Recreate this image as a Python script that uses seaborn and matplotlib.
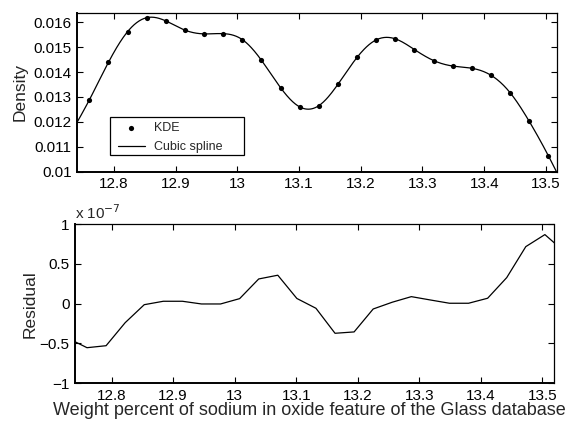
import numpy as np
import pandas as pd
import matplotlib
matplotlib.use("Agg")
import matplotlib.pyplot as plt
from matplotlib.patches import Rectangle
from matplotlib.ticker import FuncFormatter, FixedLocator
import seaborn as sns

# Sodium (Na2O) weight-percent grid where the KDE was evaluated
kde_x = [12.729, 12.760, 12.791, 12.822, 12.853, 12.884, 12.915, 12.946, 12.977,
         13.008, 13.039, 13.070, 13.101, 13.132, 13.163, 13.194, 13.225, 13.256,
         13.287, 13.318, 13.349, 13.380, 13.411, 13.442, 13.473, 13.504, 13.535]
# KDE density values at those grid points
kde_y = [0.01150, 0.01288, 0.01439, 0.01562, 0.01618, 0.01605, 0.01568, 0.01553,
         0.01554, 0.01530, 0.01447, 0.01337, 0.01260, 0.01265, 0.01351, 0.01459,
         0.01529, 0.01533, 0.01490, 0.01446, 0.01424, 0.01415, 0.01387, 0.01317,
         0.01202, 0.01064, 0.00910]
# Residual (KDE - spline), in units of 1e-7
residual_e7 = [-0.434, -0.553, -0.528, -0.239, -0.013, 0.030, 0.030, -0.004,
               -0.004, 0.063, 0.310, 0.357, 0.065, -0.058, -0.372, -0.355,
               -0.067, 0.018, 0.088, 0.046, 0.005, 0.005, 0.068, 0.327,
               0.716, 0.867, 0.657]

x_ticks = [12.8, 12.9, 13.0, 13.1, 13.2, 13.3, 13.4, 13.5]
density_ticks = [0.010, 0.011, 0.012, 0.013, 0.014, 0.015, 0.016]
residual_ticks = [-1, -0.5, 0, 0.5, 1]


def natural_cubic_spline(x, y, xs):
    """Evaluate the natural cubic spline through (x, y) at xs."""
    x = np.asarray(x, float)
    y = np.asarray(y, float)
    n = len(x)
    h = np.diff(x)
    A = np.zeros((n, n))
    b = np.zeros(n)
    A[0, 0] = A[-1, -1] = 1.0
    for i in range(1, n - 1):
        A[i, i - 1] = h[i - 1]
        A[i, i] = 2 * (h[i - 1] + h[i])
        A[i, i + 1] = h[i]
        b[i] = 3 * ((y[i + 1] - y[i]) / h[i] - (y[i] - y[i - 1]) / h[i - 1])
    c = np.linalg.solve(A, b)
    bcoef = (y[1:] - y[:-1]) / h - h * (2 * c[:-1] + c[1:]) / 3
    d = (c[1:] - c[:-1]) / (3 * h)
    idx = np.clip(np.searchsorted(x, xs) - 1, 0, n - 2)
    dx = xs - x[idx]
    return y[idx] + bcoef[idx] * dx + c[idx] * dx ** 2 + d[idx] * dx ** 3


sns.set_theme(style="white")
plt.rcParams["font.family"] = ["Liberation Sans", "DejaVu Sans"]
plt.rcParams["axes.unicode_minus"] = True

fine_x = np.linspace(kde_x[0], kde_x[-1], 600)
spline_df = pd.DataFrame({"x": fine_x, "y": natural_cubic_spline(kde_x, kde_y, fine_x)})
kde_df = pd.DataFrame({"x": kde_x, "y": kde_y})
res_df = pd.DataFrame({"x": kde_x, "r": residual_e7})

fig = plt.figure(figsize=(5.8, 4.22), dpi=100)
W, H = 580, 422
ax1 = fig.add_axes([77.3 / W, 1 - 171.7 / H, 479.7 / W, 159.0 / H])
ax2 = fig.add_axes([75.0 / W, 1 - 383.3 / H, 478.5 / W, 159.3 / H])

xlim = (12.7405, 13.518)


def fmt(v, _):
    return ("%g" % v).replace("-", "\u2212")


def style_axes(ax):
    ax.set_xlim(*xlim)
    ax.xaxis.set_major_locator(FixedLocator(x_ticks))
    ax.xaxis.set_major_formatter(FuncFormatter(fmt))
    ax.yaxis.set_major_formatter(FuncFormatter(fmt))
    ax.tick_params(direction="in", length=4, width=0.8, top=True, right=True,
                   bottom=True, left=True, labelsize=11, colors="black",
                   pad=4)
    for s in ax.spines.values():
        s.set_color("black")
        s.set_linewidth(0.9)
    ax.spines["left"].set_linewidth(1.4)
    ax.spines["bottom"].set_linewidth(1.4)
    ax.grid(False)


# Top: KDE samples and the cubic spline through them
sns.scatterplot(data=kde_df, x="x", y="y", ax=ax1, color="black", s=14,
                edgecolor="black", linewidth=0, label="KDE", zorder=3)
sns.lineplot(data=spline_df, x="x", y="y", ax=ax1, color="black", lw=0.9,
             sort=False, estimator=None, label="Cubic spline")
style_axes(ax1)
ax1.set_ylim(0.01, 0.01638)
ax1.yaxis.set_major_locator(FixedLocator(density_ticks))
ax1.set_xlabel("")
ax1.set_ylabel("Density", fontsize=12.5)
ax1.yaxis.set_label_coords(-0.104, 0.5)

# Legend box drawn separately so it keeps its wide right margin
ax1.add_patch(Rectangle((0.068, 0.105), 0.28, 0.237, transform=ax1.transAxes,
                        facecolor="white", edgecolor="black", linewidth=0.9,
                        zorder=4))
leg = ax1.legend(loc="upper left", bbox_to_anchor=(0.0848, 0.31),
                 borderaxespad=0, borderpad=0, fontsize=9, frameon=False,
                 handlelength=2.16, handletextpad=0.72, labelspacing=0.55)
leg.set_zorder(5)

# Bottom: residual between KDE and spline
sns.lineplot(data=res_df, x="x", y="r", ax=ax2, color="black", lw=0.9,
             sort=False, estimator=None)
style_axes(ax2)
ax2.set_ylim(-1, 1)
ax2.yaxis.set_major_locator(FixedLocator(residual_ticks))
ax2.set_ylabel("Residual", fontsize=12.5)
ax2.yaxis.set_label_coords(-0.0775, 0.5)
ax2.set_xlabel("Weight percent of sodium in oxide feature of the Glass database",
               fontsize=13, labelpad=0)
ax2.xaxis.set_label_coords(0.49, -0.115)
ax2.text(0.0, 1.015, "x 10$^{\u22127}$", transform=ax2.transAxes,
         ha="left", va="bottom", fontsize=11)

fig.savefig("out.png", dpi=100)
